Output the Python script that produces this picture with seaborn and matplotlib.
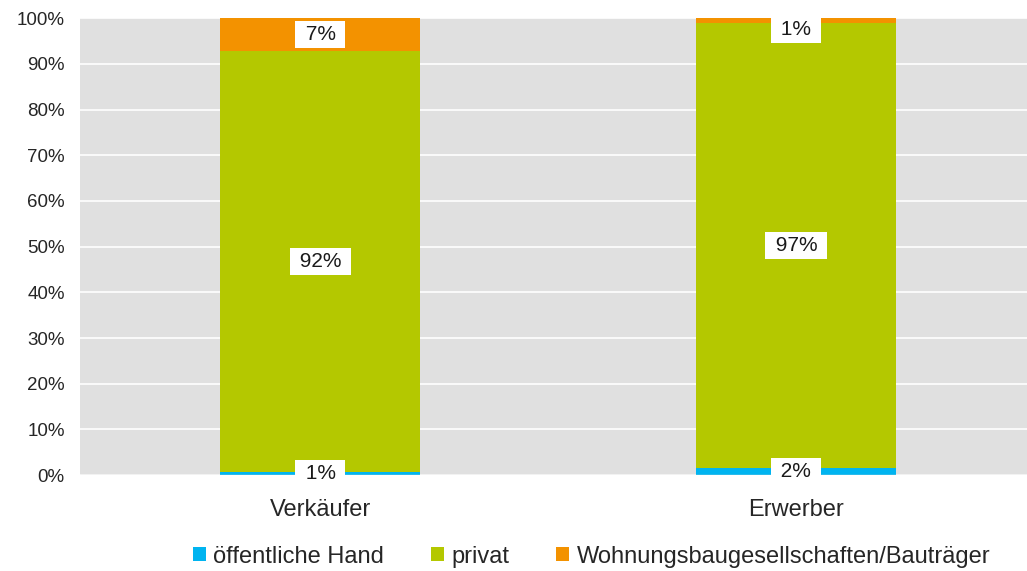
import seaborn as sns
import pandas as pd
import numpy as np
import matplotlib.pyplot as plt
from matplotlib.patches import Patch

# Anteile in Prozent
kategorien = ['Verkäufer', 'Erwerber']
oeffentlich = [0.7, 1.6]
privat = [92.1, 97.3]
wohnungsbau = [7.2, 1.1]
serien = ['öffentliche Hand', 'privat', 'Wohnungsbaugesellschaften/Bauträger']
farben = ['#00B4F0', '#B4C800', '#F39200']

df = pd.DataFrame({'Kategorie': kategorien,
                   serien[0]: oeffentlich,
                   serien[1]: privat,
                   serien[2]: wohnungsbau})

sns.set_style('white')
plt.rcParams['font.family'] = ['Liberation Sans', 'DejaVu Sans']

fig = plt.figure(figsize=(10.27, 5.71), dpi=100)
ax = fig.add_axes([0.078, 0.168, 0.922, 0.800])
ax.set_facecolor('#E0E0E0')

unten = np.zeros(len(df))
for s, c in zip(serien, farben):
    sns.barplot(data=df, x='Kategorie', y=s, bottom=unten, color=c,
                width=0.42, saturation=1, ax=ax, zorder=3,
                linewidth=0, edgecolor='none')
    for i, v in enumerate(df[s]):
        y = unten[i] + v / 2
        y = min(y, 97.6)
        ax.text(i, y, f' {v:.0f}% ', ha='center', va='center', fontsize=15,
                color='#1a1a1a', zorder=5, clip_on=False,
                bbox=dict(facecolor='white', edgecolor='none', pad=3))
    unten = unten + df[s].values

ax.set_ylim(0, 100)
ax.set_xlim(-0.505, 1.485)
ax.set_yticks(np.arange(0, 101, 10))
ax.set_yticklabels([f'{t}%' for t in range(0, 101, 10)], fontsize=13.5)
ax.tick_params(axis='y', length=0, pad=11)
ax.tick_params(axis='x', length=0, pad=17, labelsize=17)
ax.grid(axis='y', color='white', linewidth=1.2, zorder=0)
ax.set_axisbelow(True)
ax.set_xlabel('')
ax.set_ylabel('')
for sp in ax.spines.values():
    sp.set_visible(False)
ax.axhline(0, color='#D9D9D9', linewidth=1, zorder=4)

handles = [Patch(facecolor=c, edgecolor='none') for c in farben]
fig.legend(handles, serien, loc='center', bbox_to_anchor=(0.576, 0.025),
           ncol=3, frameon=False, fontsize=17, handlelength=0.55,
           handleheight=0.55, handletextpad=0.3, columnspacing=2.0)

fig.savefig('out.png', dpi=100)
